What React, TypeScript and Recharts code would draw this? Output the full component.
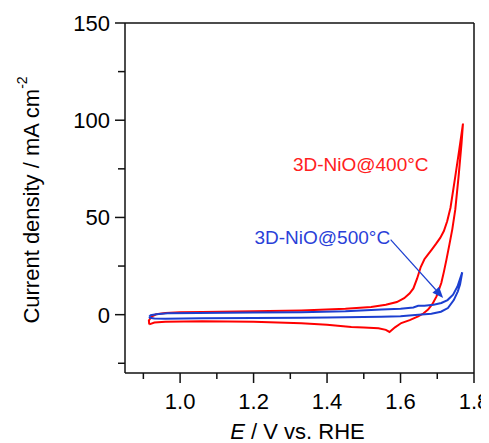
import React from 'react';
import { LineChart, Line, XAxis, YAxis, ReferenceLine, ReferenceDot, Label } from 'recharts';

// ---------- data ----------
const xTicks = [0.9, 1.0, 1.1, 1.2, 1.3, 1.4, 1.5, 1.6, 1.7, 1.8];
const xMajorTicks = [1.0, 1.2, 1.4, 1.6, 1.8];
const yTicks = [-25, 0, 25, 50, 75, 100, 125, 150];
const yMajorTicks = [0, 50, 100, 150];

// 3D-NiO@400°C cyclic voltammogram (E in V, j in mA cm^-2)
const nio400E = [
  0.916, 0.915, 0.922, 0.935, 0.96, 1.0, 1.06, 1.2, 1.33, 1.45, 1.52, 1.56, 1.59, 1.61, 1.625, 1.635,
  1.645, 1.655, 1.665, 1.675, 1.685, 1.697, 1.708, 1.718, 1.727, 1.736, 1.749, 1.76, 1.77,
  1.766, 1.758, 1.749, 1.741, 1.733, 1.725, 1.718, 1.711, 1.698, 1.687, 1.675, 1.662, 1.648, 1.625,
  1.602, 1.585, 1.57, 1.56, 1.54, 1.5, 1.466, 1.4, 1.33, 1.2, 1.06, 0.96, 0.93, 0.916,
];
const nio400J = [
  -5.0, -3.0, -1.0, 0.2, 0.9, 1.2, 1.4, 1.8, 2.2, 3.0, 4.0, 5.1, 6.5, 8.5, 11, 13.5,
  18.5, 24.5, 28.5, 31, 33.5, 36.5, 39.5, 43, 48, 55, 71, 85, 98.3,
  88, 71, 54, 44, 36, 28.3, 22, 16.3, 9.4, 5.5, 2.6, 0.6, -0.9, -2.8,
  -4.3, -6.5, -8.9, -7.8, -7.0, -6.6, -6.3, -5.2, -4.4, -3.7, -3.4, -3.7, -4.0, -5.0,
];

// 3D-NiO@500°C cyclic voltammogram
const nio500E = [
  0.916, 0.92, 0.935, 0.966, 1.05, 1.2, 1.33, 1.45, 1.548, 1.6, 1.635, 1.648, 1.665, 1.69, 1.711,
  1.728, 1.743, 1.755, 1.768,
  1.762, 1.756, 1.745, 1.729, 1.71, 1.684, 1.64, 1.6, 1.548, 1.4, 1.33, 1.2, 1.06, 0.96, 0.93, 0.918, 0.916,
];
const nio500J = [
  -0.9, -0.3, 0.2, 0.7, 0.9, 1.1, 1.2, 1.7, 2.6, 3.1, 3.7, 4.6, 4.6, 5.1, 6.0,
  7.5, 10.3, 14.5, 21.8,
  15.5, 12, 7.5, 3.4, 1.5, 0.5, -0.2, -0.8, -1.1, -1.4, -1.6, -1.7, -1.9, -2.1, -2.0, -1.6, -0.9,
];

const label400 = { x: 1.307, y: 74, text: '3D-NiO@400°C' };
const label500 = { x: 1.2025, y: 36.5, text: '3D-NiO@500°C' };
const arrow500 = [
  { x: 1.573, y: 38.6 },
  { x: 1.716, y: 8.6 },
];

const series400 = nio400E.map((x, i) => ({ x, y: nio400J[i] }));
const series500 = nio500E.map((x, i) => ({ x, y: nio500J[i] }));

// ---------- styles ----------
const AXIS_FONT = '"Liberation Sans", Arial, sans-serif';
const ANNO_FONT = '"Liberation Sans", Arial, sans-serif';
const AXIS_COLOR = '#111';
const RED = '#ff0000';
const BLUE = '#1c3fd0';
const RED_TEXT = '#ff2020';
const BLUE_TEXT = '#2a3fd8';

const isIn = (arr: number[], v: number) => arr.some((m) => Math.abs(m - v) < 1e-6);

const XTick = (props: any) => {
  const { x, y, payload } = props;
  const v = payload.value as number;
  const major = isIn(xMajorTicks, v);
  return (
    <g>
      <line x1={x} x2={x} y1={y} y2={y + (major ? 10 : 6)} stroke={AXIS_COLOR} strokeWidth={1.5} />
      {major && (
        <text x={x} y={y + 36} textAnchor="middle" fontSize={22} fill="#000" fontFamily={AXIS_FONT}>
          {v.toFixed(1)}
        </text>
      )}
    </g>
  );
};

const YTick = (props: any) => {
  const { x, y, payload } = props;
  const v = payload.value as number;
  const major = isIn(yMajorTicks, v);
  return (
    <g>
      <line x1={x} x2={x - (major ? 10 : 7)} y1={y} y2={y} stroke={AXIS_COLOR} strokeWidth={1.5} />
      {major && (
        <text x={x - 15} y={y + 8} textAnchor="end" fontSize={22} fill="#000" fontFamily={AXIS_FONT}>
          {String(v)}
        </text>
      )}
    </g>
  );
};

const XLabel = (props: any) => {
  const vb = props.viewBox || {};
  const cx = vb.x + vb.width / 2 - 2;
  const by = vb.y + 66;
  return (
    <text x={cx} y={by} textAnchor="middle" fontSize={22} fill="#000" fontFamily={AXIS_FONT}>
      <tspan fontStyle="italic">E</tspan>
      <tspan> / V vs. RHE</tspan>
    </text>
  );
};

const YLabel = (props: any) => {
  const vb = props.viewBox || {};
  const bx = 31;
  const cy = vb.y + vb.height / 2 + 2;
  return (
    <text
      x={bx}
      y={cy}
      transform={`rotate(-90, ${bx}, ${cy})`}
      textAnchor="middle"
      fontSize={22}
      fill="#000"
      fontFamily={AXIS_FONT}
    >
      <tspan>Current density / mA cm</tspan>
      <tspan fontSize={14} dy={-12}>-2</tspan>
    </text>
  );
};

const TextShape = (text: string, color: string) => (p: any) => (
  <text x={p.cx} y={p.cy} fontSize={19} fill={color} fontFamily={ANNO_FONT}>
    {text}
  </text>
);

const ArrowShape = (p: any) => {
  const { x1, y1, x2, y2 } = p;
  const ang = Math.atan2(y2 - y1, x2 - x1);
  const len = 11;
  const hw = 4.5;
  const bx = x2 - len * Math.cos(ang);
  const by = y2 - len * Math.sin(ang);
  const px = -Math.sin(ang) * hw;
  const py = Math.cos(ang) * hw;
  return (
    <g>
      <line x1={x1} y1={y1} x2={bx} y2={by} stroke={BLUE} strokeWidth={1.2} />
      <polygon points={`${x2},${y2} ${bx + px},${by + py} ${bx - px},${by - py}`} fill={BLUE} />
    </g>
  );
};

export default function App() {
  return (
    <div style={{ width: 481, height: 435 }}>
      <LineChart width={481} height={435} margin={{ top: 15, right: 15, bottom: 0, left: 0 }}>
        <XAxis
          type="number"
          dataKey="x"
          domain={[0.85, 1.8]}
          ticks={xTicks}
          allowDataOverflow
          height={70}
          tickSize={0}
          tickMargin={0}
          tickLine={false}
          tick={<XTick />}
          axisLine={{ stroke: AXIS_COLOR, strokeWidth: 1.5 }}
          interval={0}
        >
          <Label content={<XLabel />} />
        </XAxis>
        <YAxis
          type="number"
          domain={[-30, 150]}
          ticks={yTicks}
          allowDataOverflow
          width={117}
          tickSize={0}
          tickMargin={0}
          tickLine={false}
          tick={<YTick />}
          axisLine={{ stroke: AXIS_COLOR, strokeWidth: 1.5 }}
          interval={0}
        >
          <Label content={<YLabel />} />
        </YAxis>
        <ReferenceLine y={150} stroke={AXIS_COLOR} strokeWidth={1.5} />
        <ReferenceLine x={1.8} stroke={AXIS_COLOR} strokeWidth={1.5} />
        <Line
          data={series400}
          dataKey="y"
          type="linear"
          stroke={RED}
          strokeWidth={2}
          dot={false}
          isAnimationActive={false}
        />
        <Line
          data={series500}
          dataKey="y"
          type="linear"
          stroke={BLUE}
          strokeWidth={2}
          dot={false}
          isAnimationActive={false}
        />
        <ReferenceLine segment={arrow500} shape={ArrowShape} ifOverflow="visible" />
        <ReferenceDot x={label400.x} y={label400.y} r={1} shape={TextShape(label400.text, RED_TEXT)} />
        <ReferenceDot x={label500.x} y={label500.y} r={1} shape={TextShape(label500.text, BLUE_TEXT)} />
      </LineChart>
    </div>
  );
}
